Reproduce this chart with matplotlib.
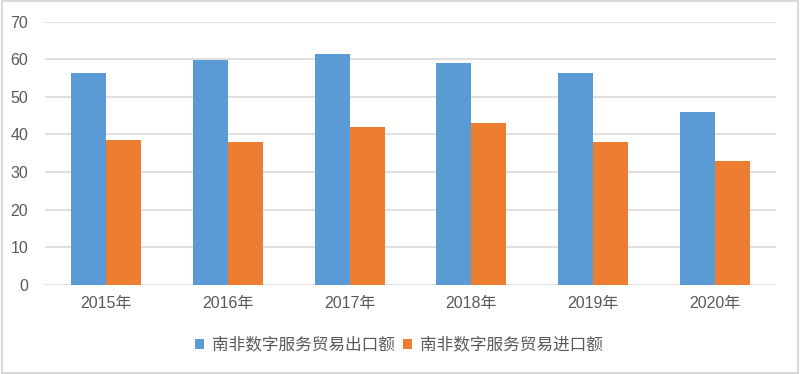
import matplotlib.pyplot as plt
import numpy as np
from matplotlib.patches import Rectangle

plt.rcParams['font.family'] = ['Liberation Sans', 'Noto Sans CJK SC', 'DejaVu Sans']

years = ['2015年', '2016年', '2017年', '2018年', '2019年', '2020年']
export = [56.4, 59.9, 61.3, 58.9, 56.4, 45.9]
imports = [38.4, 37.9, 41.9, 43.0, 38.0, 33.0]
labels = ['南非数字服务贸易出口额', '南非数字服务贸易进口额']

blue = '#5b9bd5'
orange = '#ed7d31'
grey = '#595959'

fig = plt.figure(figsize=(8, 3.74), dpi=100)
ax = fig.add_axes([0.05625, 0.238, 0.9138, 0.7045])

x = np.arange(len(years))
w = 0.287
ax.bar(x - w/2, export, w, color=blue, label=labels[0], zorder=3)
ax.bar(x + w/2, imports, w, color=orange, label=labels[1], zorder=3)

ax.set_xlim(-0.5, len(years) - 0.5)
ax.set_ylim(0, 70)
ax.set_yticks(range(0, 71, 10))
ax.set_xticks(x)
ax.set_xticklabels(years)
ax.grid(axis='y', color='#d9d9d9', lw=1.2, zorder=0)
for s in ax.spines.values():
    s.set_visible(False)
ax.tick_params(length=0, colors=grey, labelsize=11.5)
ax.tick_params(axis='x', pad=8)
ax.tick_params(axis='y', pad=12)

leg = fig.legend(loc='center', bbox_to_anchor=(0.4985, 0.077), ncol=2, frameon=False,
                 handlelength=0.55, handleheight=0.55,
                 handletextpad=0.45, columnspacing=0.5,
                 prop={'family': ['Noto Sans CJK SC'], 'size': 12})
for t in leg.get_texts():
    t.set_color(grey)

fig.patches.append(Rectangle((0.002, 0.003), 0.996, 0.994, transform=fig.transFigure,
                             fill=False, edgecolor='#d9d9d9', lw=1.5))

plt.savefig('out.png', dpi=100)
